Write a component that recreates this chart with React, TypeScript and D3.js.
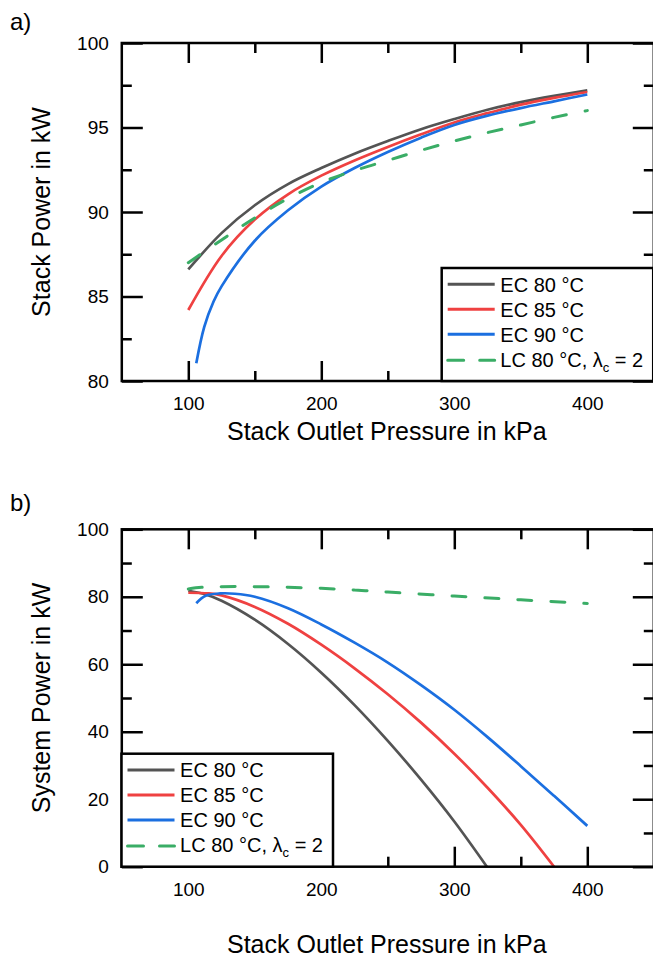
import * as d3 from "d3";
import { useEffect, useRef } from "react";

// pressure in kPa, power in kW
const stackP = [100, 125, 150, 175, 200, 225, 250, 275, 300, 325, 350, 375, 400];
const stackEc80 = [86.6, 88.75, 90.4, 91.65, 92.6, 93.45, 94.2, 94.9, 95.5, 96.05, 96.5, 96.87, 97.2];
const stackEc85 = [84.2, 87.4, 89.55, 91.05, 92.15, 93.05, 93.85, 94.6, 95.3, 95.85, 96.35, 96.75, 97.1];
const stackEc90P = [106, 112, 119, 125, 150, 175, 200, 225, 250, 275, 300, 325, 350, 375, 400];
const stackEc90 = [81.05, 83.2, 84.7, 85.6, 88.3, 90.1, 91.5, 92.6, 93.55, 94.4, 95.15, 95.7, 96.15, 96.55, 96.95];
const stackLc80 = [87.0, 88.35, 89.65, 90.8, 91.75, 92.45, 93.05, 93.65, 94.2, 94.7, 95.15, 95.6, 96.0];

const sysEc80P = [100, 112, 125, 150, 175, 200, 225, 250, 275, 300, 324.5];
const sysEc80 = [81.8, 80.8, 78.8, 73.2, 66.0, 57.5, 47.9, 37.3, 25.8, 13.4, 0];
const sysEc85P = [100, 115, 125, 150, 175, 200, 225, 250, 275, 300, 325, 350, 375];
const sysEc85 = [81.2, 81.0, 80.4, 77.0, 72.0, 65.8, 58.8, 51.1, 42.7, 33.5, 23.4, 12.4, 0];
const sysEc90P = [106, 113, 124, 135, 150, 175, 200, 225, 250, 275, 300, 325, 350, 375, 400];
const sysEc90 = [78.1, 80.3, 81.0, 80.9, 80.0, 76.6, 71.8, 66.4, 60.5, 53.8, 46.5, 38.4, 29.8, 21.0, 12.1];
const sysLcP = [100, 110, 125, 150, 175, 200, 225, 250, 300, 350, 400];
const sysLc = [82.3, 82.8, 83.0, 83.0, 82.8, 82.5, 82.0, 81.4, 80.2, 79.1, 78.0];

const xTicks = [100, 200, 300, 400];
const xMinor = [150, 250, 350];
const stackTicks = [80, 85, 90, 95, 100];
const stackMinor = [82.5, 87.5, 92.5, 97.5];
const sysTicks = [0, 20, 40, 60, 80, 100];
const sysMinor = [10, 30, 50, 70, 90];

const legendLabels = ["EC 80 °C", "EC 85 °C", "EC 90 °C", "LC 80 °C, λ"];
const colors = ["#545454", "#ef4141", "#1b6fe0", "#3aad66"];

const FONT = "'Liberation Sans', Arial, Helvetica, sans-serif";

function App() {
  const ref = useRef(null);

  useEffect(() => {
    const svg = d3.select(ref.current);
    svg.selectAll("*").remove();

    const x = d3.scaleLinear().domain([50, 450]).range([121.8, 653.8]);

    const panels = [
      {
        tag: "a)",
        tagY: 30,
        y: d3.scaleLinear().domain([80, 100]).range([381, 43]),
        ticks: stackTicks,
        minor: stackMinor,
        yTitle: "Stack Power in kW",
        titleY: 440,
        series: [
          [stackP, stackEc80],
          [stackP, stackEc85],
          [stackEc90P, stackEc90],
          [stackP, stackLc80],
        ],
        legendX: 441.7,
      },
      {
        tag: "b)",
        tagY: 511,
        y: d3.scaleLinear().domain([0, 100]).range([866.7, 529.3]),
        ticks: sysTicks,
        minor: sysMinor,
        yTitle: "System Power in kW",
        titleY: 953,
        series: [
          [sysEc80P, sysEc80],
          [sysEc85P, sysEc85],
          [sysEc90P, sysEc90],
          [sysLcP, sysLc],
        ],
        legendX: 121.5,
      },
    ];

    panels.forEach((p) => {
      const y = p.y;
      const [y0, y1] = y.range(); // bottom, top
      const [x0, x1] = x.range();
      const g = svg.append("g");

      // major / minor ticks on all four sides, pointing inward
      const axes = [
        { ax: d3.axisBottom(x).tickValues(xTicks).tickSize(-20).tickPadding(16), t: `translate(0,${y0})` },
        { ax: d3.axisBottom(x).tickValues(xMinor).tickSize(-10).tickFormat(""), t: `translate(0,${y0})` },
        { ax: d3.axisTop(x).tickValues(xTicks).tickSize(-20).tickFormat(""), t: `translate(0,${y1})` },
        { ax: d3.axisTop(x).tickValues(xMinor).tickSize(-10).tickFormat(""), t: `translate(0,${y1})` },
        { ax: d3.axisLeft(y).tickValues(p.ticks).tickSize(-21).tickPadding(13), t: `translate(${x0},0)` },
        { ax: d3.axisLeft(y).tickValues(p.minor).tickSize(-10).tickFormat(""), t: `translate(${x0},0)` },
        { ax: d3.axisRight(y).tickValues(p.ticks).tickSize(-21).tickFormat(""), t: `translate(${x1},0)` },
        { ax: d3.axisRight(y).tickValues(p.minor).tickSize(-10).tickFormat(""), t: `translate(${x1},0)` },
      ];
      axes.forEach((a) => {
        const ag = g.append("g").attr("transform", a.t).call(a.ax.tickSizeOuter(0));
        ag.select(".domain").remove();
        ag.selectAll("line").attr("stroke", "#000").attr("stroke-width", 2.5);
        ag.selectAll("text")
          .attr("font-size", 19)
          .attr("font-family", FONT)
          .attr("fill", "#000");
      });

      // curves
      const line = d3
        .line()
        .x((d) => x(d[0]))
        .y((d) => y(d[1]))
        .curve(d3.curveCatmullRom.alpha(0.5));

      p.series.forEach(([xs, ys], i) => {
        g.append("path")
          .datum(xs.map((v, j) => [v, ys[j]]))
          .attr("fill", "none")
          .attr("stroke", colors[i])
          .attr("stroke-width", i === 3 ? 3 : 2.7)
          .attr("stroke-dasharray", i === 3 ? "14 19" : null)
          .attr("stroke-linecap", i === 3 ? "round" : "butt")
          .attr("d", line);
      });

      // frame
      g.append("rect")
        .attr("x", x0)
        .attr("y", y1)
        .attr("width", x1 - x0)
        .attr("height", y0 - y1)
        .attr("fill", "none")
        .attr("stroke", "#000")
        .attr("stroke-width", 2.5);

      // legend box
      const lg = g.append("g").attr("transform", `translate(${p.legendX},${y0 - 113})`);
      lg.append("rect")
        .attr("width", 211.5)
        .attr("height", 113)
        .attr("fill", "#fff")
        .attr("stroke", "#000")
        .attr("stroke-width", 2.5);
      legendLabels.forEach((lab, i) => {
        const cy = 16.3 + i * 25;
        lg.append("line")
          .attr("x1", 6)
          .attr("x2", 53)
          .attr("y1", i === 3 ? cy + 1 : cy)
          .attr("y2", i === 3 ? cy + 1 : cy)
          .attr("stroke", colors[i])
          .attr("stroke-width", 3)
          .attr("stroke-dasharray", i === 3 ? "16 16" : null)
          .attr("stroke-linecap", i === 3 ? "round" : "butt");
        const t = lg
          .append("text")
          .attr("x", 58.6)
          .attr("y", cy + 7.3)
          .attr("font-size", 20)
          .attr("font-family", FONT)
          .text(lab);
        if (i === 3) {
          t.append("tspan").attr("font-size", 13).attr("dy", 5).text("c");
          t.append("tspan").attr("dy", -5).text(" = 2");
        }
      });

      // titles
      g.append("text")
        .attr("x", (x0 + x1) / 2 - 1)
        .attr("y", p.titleY)
        .attr("text-anchor", "middle")
        .attr("font-size", 25)
        .attr("font-family", FONT)
        .text("Stack Outlet Pressure in kPa");

      g.append("text")
        .attr("transform", `translate(50,${(y0 + y1) / 2}) rotate(-90)`)
        .attr("text-anchor", "middle")
        .attr("font-size", 25)
        .attr("font-family", FONT)
        .text(p.yTitle);

      g.append("text")
        .attr("x", 10)
        .attr("y", p.tagY)
        .attr("font-size", 24)
        .attr("font-family", FONT)
        .text(p.tag);
    });
  }, []);

  return (
    <svg
      ref={ref}
      width={653}
      height={960}
      style={{ position: "absolute", left: 0, top: 0, display: "block", background: "#fff" }}
    />
  );
}

export default App;
